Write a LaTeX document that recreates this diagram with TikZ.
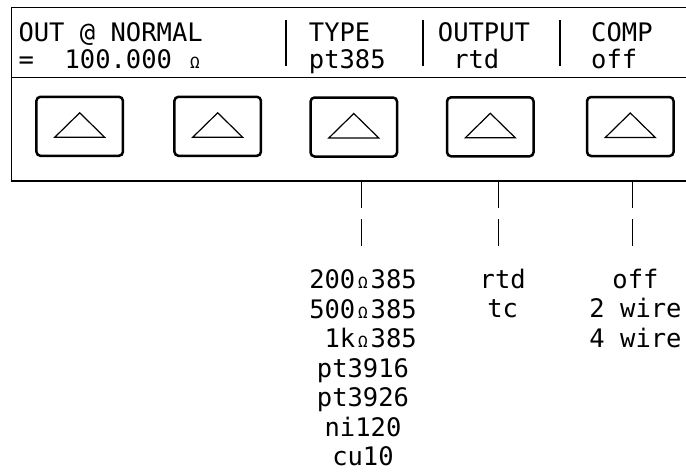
\documentclass[tikz,border=0pt]{standalone}
\usepackage{fontspec}
\setmonofont{DejaVu Sans Mono}
\newcommand\smom{\makebox[0.602em][c]{\fontsize{16}{16}\selectfont Ω}}
\begin{document}
\begin{tikzpicture}[x=1pt,y=-1pt,
  lcd/.style={font=\ttfamily\fontsize{25.5}{29.5}\selectfont, inner sep=0pt},
  frameline/.style={line width=1.3pt},
  sepbar/.style={line width=2pt},
  keybox/.style={draw, line width=2.5pt, rounded corners=4pt,
    minimum width=86.5pt, minimum height=59pt, inner sep=0pt},
  keytri/.style={line width=1.2pt, line join=miter},
  dashlink/.style={line width=1.4pt, dash pattern=on 26.3pt off 11pt}]
\useasboundingbox (0,0) rectangle (686,472);
% panel frame
\draw[frameline] (686,7.3) -- (11.7,7.3) -- (11.7,181) -- (686,181);
\draw[frameline] (11.7,77.7) -- (686,77.7);
% display separators
\foreach \sx in {285.7,422.7,559.7}
  \draw[sepbar] (\sx,20) -- (\sx,65.7);
% display texts
\node[lcd, anchor=base west] (out)  at (18.3,41) {OUT @ NORMAL};
\node[lcd, anchor=base west] (val)  at (18.3,68) {=\ \ 100.000\ \smom};
\node[lcd, anchor=base west] (type) at (308.7,41) {TYPE};
\node[lcd, anchor=base west] (typev) at (308.7,68) {pt385};
\node[lcd, anchor=base west] (outp) at (437.7,41) {OUTPUT};
\node[lcd, anchor=base west] (outpv) at (437.7,68) {\ rtd};
\node[lcd, anchor=base west] (comp) at (591,41) {COMP};
\node[lcd, anchor=base west] (compv) at (591,68) {off};
% soft keys
\node[keybox] (k1) at (79.7,126.3) {};
\node[keybox] (k2) at (217.7,126.3) {};
\node[keybox] (k3) at (353.8,127.0) {};
\node[keybox] (k4) at (490.3,126.8) {};
\node[keybox] (k5) at (630.3,126.5) {};
\foreach \k in {k1,k2,k3,k4,k5}
  \draw[keytri, shift={(\k.center)}] (0,-13.5) -- (25,11) -- (-25,11) -- cycle;
% option lists
\node[lcd, anchor=north, align=center] (typelist) at (363,269.6)
  {200\smom385\\500\smom385\\\ 1k\smom385\\pt3916\\pt3926\\ni120\\cu10};
\node[lcd, anchor=north, align=center] (outlist) at (502.7,268.8) {rtd\\tc};
\node[lcd, anchor=north, align=center] (complist) at (635.5,268.8) {off\\2 wire\\4 wire};
% dashed leaders
\coordinate (d1a) at (361.7,182);   \coordinate (d1b) at (361.7,245.7);
\coordinate (d2a) at (498.3,182);   \coordinate (d2b) at (498.3,245.7);
\coordinate (d3a) at (632.5,182);   \coordinate (d3b) at (632.5,245.7);
\draw[dashlink] (d1a) -- (d1b);
\draw[dashlink] (d2a) -- (d2b);
\draw[dashlink] (d3a) -- (d3b);
\end{tikzpicture}
\end{document}
